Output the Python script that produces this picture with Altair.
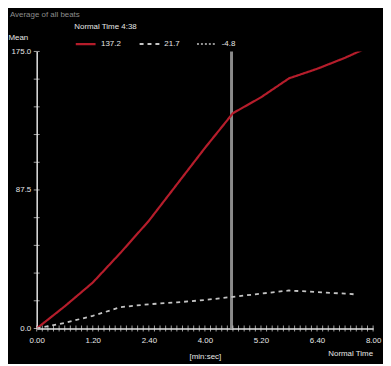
import altair as alt
import pandas as pd

# ---- data (time in seconds, value = Mean) ----
red_t = [0, 40, 80, 120, 160, 200, 240, 280, 320, 360, 400, 440, 480]
red_v = [0, 14, 29, 48, 68, 91, 114, 136, 146, 158, 164, 171, 179]
dash_t = [0, 40, 80, 120, 160, 200, 240, 280, 320, 360, 400, 440, 456]
dash_v = [0, 3.5, 8, 13.5, 15.3, 16.5, 18, 20, 22, 24, 23, 22, 21.5]
series_names = ["137.2", "21.7", "-4.8"]
marker_t = [278]
x_label_values = [0, 80, 160, 240, 320, 400, 480]
x_tick_values = list(range(0, 481, 8))
y_label_values = [0, 87.5, 175]
y_tick_values = [i * 17.5 for i in range(11)]

df = pd.DataFrame({
    "t": red_t + dash_t,
    "v": red_v + dash_v,
    "s": [series_names[0]] * len(red_t) + [series_names[1]] * len(dash_t),
})
marker_df = pd.DataFrame({"t": marker_t})
xt_df = pd.DataFrame({"t": x_tick_values})
yt_df = pd.DataFrame({"v": y_tick_values})

FONT = "Liberation Sans"
WHITE = "#e6e6e6"

legend_def = alt.Legend(
    title="Normal Time 4:38", orient="none", legendX=38, legendY=-29,
    direction="horizontal", symbolType="stroke", symbolSize=400,
    symbolStrokeWidth=1.5, labelColor=WHITE, titleColor=WHITE,
    labelFontSize=8, titleFontSize=8, titleFontWeight="normal",
    labelFont=FONT, titleFont=FONT, columnPadding=14, titlePadding=2,
    labelOffset=4,
)

x_scale = alt.Scale(domain=[0, 480], nice=False, zero=True)
y_scale = alt.Scale(domain=[0, 175], nice=False)

x_enc = alt.X(
    "t:Q", scale=x_scale,
    axis=alt.Axis(
        values=x_label_values,
        labelExpr="floor(datum.value/60) + '.' + (datum.value % 60 < 10 ? '0' : '') + (datum.value % 60)",
        labelOverlap=False, labelFlush=False, grid=False, ticks=False,
        title="[min:sec]", titleX=170, titleY=24, titleFontSize=8,
        titleFontWeight="normal", titleColor=WHITE, titleFont=FONT,
        labelPadding=8,
    ),
)
y_enc = alt.Y(
    "v:Q", scale=y_scale,
    axis=alt.Axis(
        values=y_label_values, format=".1f",
        labelOverlap=False, labelFlush=False, grid=False, ticks=False,
        title="Mean", titleAngle=0, titleAlign="left", titleX=-29, titleY=-10,
        titleBaseline="bottom", titleFontSize=8, titleFontWeight="normal",
        titleColor=WHITE, titleFont=FONT, labelPadding=6,
    ),
)

lines = alt.Chart(df).mark_line(clip=True).encode(
    x=x_enc,
    y=y_enc,
    color=alt.Color("s:N", scale=alt.Scale(domain=series_names,
                                           range=["#b51d2b", "#c4c4c4", "#c4c4c4"]),
                    legend=legend_def),
    strokeDash=alt.StrokeDash("s:N", scale=alt.Scale(domain=series_names,
                                                     range=[[1, 0], [4, 4], [2, 2]]),
                              legend=legend_def),
    strokeWidth=alt.StrokeWidth("s:N", scale=alt.Scale(domain=series_names, range=[2.2, 1.4, 1.4]),
                                legend=None),
)

marker = alt.Chart(marker_df).mark_rule(color="#8a8a8a", strokeWidth=3).encode(x="t:Q")

x_ticks = alt.Chart(xt_df).mark_tick(orient="vertical", size=6, thickness=1, color=WHITE).encode(
    x=alt.X("t:Q", scale=x_scale), y=alt.value(280))
y_ticks = alt.Chart(yt_df).mark_tick(orient="horizontal", size=6, thickness=1, color=WHITE).encode(
    y=alt.Y("v:Q", scale=y_scale), x=alt.value(0))

corner = alt.Chart(marker_df).mark_text(
    text="Normal Time", align="right", baseline="middle", fontSize=8,
    font=FONT, color=WHITE,
).encode(x=alt.value(340), y=alt.value(306))

header = alt.Chart(marker_df).mark_text(
    text="Average of all beats", align="left", baseline="middle", fontSize=8,
    font=FONT, color="#8c8c8c",
).encode(x=alt.value(-27), y=alt.value(-37))

chart = alt.layer(marker, x_ticks, y_ticks, lines, corner, header).properties(
    width=340, height=280,
    background="black",
    autosize=alt.AutoSizeParams(type="none"),
    padding={"left": 29, "top": 42, "right": 10, "bottom": 34},
).configure_view(stroke=None).configure_axis(
    domainColor=WHITE, tickColor=WHITE, labelColor=WHITE, labelFontSize=8,
    labelFont=FONT, domainWidth=1.5,
)

chart.save("out.html", embed_options={"renderer": "svg", "actions": False})
